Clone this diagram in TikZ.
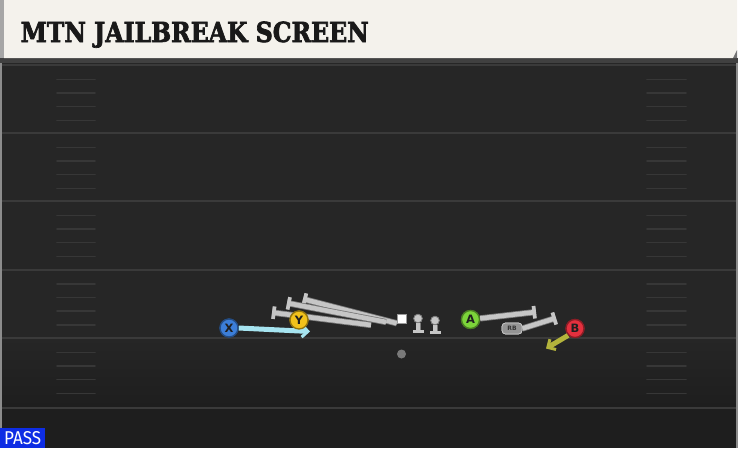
\documentclass[tikz,border=0pt]{standalone}
\usepackage{fontspec}
\setmainfont{DejaVu Sans}
\newfontfamily\titlefont[FakeBold=2.5]{DejaVu Serif Condensed Bold}
\newfontfamily\badgefont{Fira Sans}
\usetikzlibrary{arrows.meta}
\definecolor{fieldbg}{HTML}{262626}
\definecolor{fieldlow}{HTML}{1E1E1E}
\definecolor{yardline}{HTML}{3A3A3A}
\definecolor{hashc}{HTML}{373737}
\definecolor{headbg}{HTML}{F4F2EC}
\definecolor{blockc}{HTML}{C6C6C6}
\definecolor{blockedge}{HTML}{7A7A7A}
\definecolor{xblue}{HTML}{3C7ED8}
\definecolor{yyellow}{HTML}{F2C21B}
\definecolor{agreen}{HTML}{7CD43A}
\definecolor{bred}{HTML}{E4303E}
\definecolor{cyanroute}{HTML}{A6E4F0}
\definecolor{oliveroute}{HTML}{B4B43C}
\definecolor{passblue}{HTML}{0E2DE4}
\tikzset{
  yard/.style={draw=yardline, line width=2pt},
  hashmark/.style={draw=hashc, line width=1.6pt, line cap=round},
  player/.style={circle, minimum size=18pt, inner sep=0pt, line width=1.3pt,
    font=\bfseries\fontsize{11.5}{11.5}\selectfont, text=black!88},
  block/.style={draw=blockc, line width=4.6pt,
    preaction={draw=blockedge, line width=6.2pt},
    -{Bar[width=12.5pt,line width=3.6pt]}},
  olhead/.style={circle, fill=blockc, draw=blockedge, line width=0.7pt, minimum size=8.5pt, inner sep=0pt},
  olblock/.style={draw=blockc, line width=3.6pt, preaction={draw=blockedge, line width=5pt}, -{Bar[width=11pt,line width=3.4pt]}},
  centersq/.style={fill=white, draw=black!40, line width=0.5pt, minimum size=9pt, inner sep=0pt},
  rbbox/.style={rounded corners=3.5pt, fill=black!42, draw=black!22, line width=0.7pt, minimum width=20pt, minimum height=11pt, inner sep=0pt,
    font=\bfseries\fontsize{6}{6}\selectfont, text=black!80},
  routearrow/.style={line width=5pt, -{Straight Barb[length=6pt,width=12pt,line width=3pt]}},
}
\begin{document}
\begin{tikzpicture}[x=1pt,y=-1pt]
\useasboundingbox (0,0) rectangle (738,448);
% field
\fill[fieldbg] (0,58) rectangle (738,448);
\shade[top color=fieldbg, bottom color=fieldlow] (0,338) rectangle (738,407);
\fill[fieldlow] (0,407) rectangle (738,448);
\fill[black!75] (0,58) rectangle (738,63);
% side lines
\draw[draw=black!45, line width=2pt] (1,63) -- (1,448);
\draw[draw=black!45, line width=2pt] (736.5,63) -- (736.5,448);
% yard lines
\foreach \y in {133,201,269.5,338,407.5} {\draw[yard] (2,\y) -- (736,\y);}
\draw[draw=yardline, line width=1.5pt] (2,65) -- (736,65);
% hash marks
\foreach \s in {65,133,201,269.5,338} {
  \foreach \o in {14.5,28,41.5,55.5} {
    \draw[hashmark] (57,\s+\o) -- (95,\s+\o);
    \draw[hashmark] (647,\s+\o) -- (686,\s+\o);
  }
}
% header
\fill[headbg] (4,0) -- (737,0) -- (737,50) -- (733,58) -- (4,58) -- cycle;
\fill[black!55] (737,50) -- (733,58) -- (737,58) -- cycle;
\fill[black!35] (0,0) rectangle (4,58);
\node[anchor=base west, inner sep=0pt, text=black!90] (title) at (20.5,42)
  {\resizebox{348pt}{20.5pt}{\titlefont MTN JAILBREAK SCREEN}};
% linemen positions
\coordinate (lt) at (371,325);
\coordinate (lg) at (386,322);
\coordinate (ltend) at (272,312.5);
\coordinate (lgend) at (287,303);
\coordinate (cend) at (303,299);
\node[olhead] (rg) at (418,318.5) {};
\node[olhead] (rt) at (435,320.5) {};
\coordinate (rgend) at (418,333);
\coordinate (rtend) at (435,334);
% center
\node[centersq] (c) at (401.5,318.5) {};
% blocks (left side)
\draw[block] (c.south west) -- (cend);
\draw[block] (lg) -- (lgend);
\draw[block] (lt) -- (ltend);
\node[centersq] at (401.5,318.5) {};
% right linemen blocks
\draw[olblock] (rg) -- (rgend);
\draw[olblock] (rt) -- (rtend);
\node[olhead] at (418,318.5) {};
\node[olhead] at (435,320.5) {};
% QB
\node[circle, fill=black!52, minimum size=9pt, inner sep=0pt] (qb) at (401.5,354) {};
% skill players
\node[player, fill=xblue, draw=xblue!60!black] (x) at (229,328) {X};
\node[player, fill=yyellow, draw=yyellow!60!black] (y) at (299,320) {Y};
\node[player, fill=agreen, draw=agreen!60!black] (a) at (470.5,319.5) {A};
\node[player, fill=bred, draw=bred!60!black] (b) at (575,328.5) {B};
\node[rbbox] (rb) at (512,328.5) {RB};
\coordinate (aend) at (536,312);
\coordinate (rbend) at (556,318);
\coordinate (xend) at (310,331.5);
\coordinate (bend) at (546,348.5);
% routes
\draw[block] (a) -- (aend);
\draw[block] (rb.east) -- (rbend);
\draw[routearrow, draw=cyanroute] (x.east) -- (xend);
\draw[routearrow, draw=oliveroute] (b.south west) -- (bend);
% redraw players on top
\node[player, fill=xblue, draw=xblue!60!black] at (229,328) {X};
\node[player, fill=yyellow, draw=yyellow!60!black] at (299,320) {Y};
\node[player, fill=agreen, draw=agreen!60!black] at (470.5,319.5) {A};
\node[player, fill=bred, draw=bred!60!black] at (575,328.5) {B};
\node[rbbox] at (512,328.5) {RB};
% PASS badge
\node[fill=passblue, anchor=south west, minimum width=45pt, minimum height=20pt, inner sep=0pt, text=white] (pass) at (0,448)
  {\resizebox{37pt}{13pt}{\badgefont PASS}};
\end{tikzpicture}
\end{document}
